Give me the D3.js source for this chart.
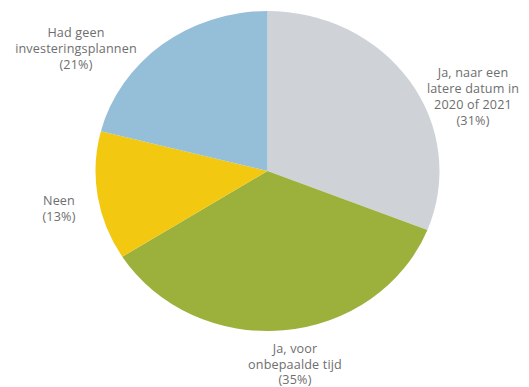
<!DOCTYPE html>
<html>
<head>
<meta charset="utf-8">
<script src="https://cdn.jsdelivr.net/npm/d3@7"></script>
<style>
  html, body { margin: 0; padding: 0; background: #fff; }
  svg { display: block; }
</style>
</head>
<body>
<svg id="chart" width="529" height="387"></svg>
<script>
const categories = ["Ja, naar een latere datum in 2020 of 2021", "Ja, voor onbepaalde tijd", "Neen", "Had geen investeringsplannen"];
const values = [31, 35, 13, 21];
const labelLines = [
  ["Ja, naar een", "latere datum in", "2020 of 2021", "(31%)"],
  ["Ja, voor", "onbepaalde tijd", "(35%)"],
  ["Neen", "(13%)"],
  ["Had geen", "investeringsplannen", "(21%)"]
];
const colors = ["#cfd3d8", "#9cb13b", "#f2c811", "#95bfd8"];

const svg = d3.select("#chart");
const cx = 267.5, cy = 171, rx = 172, ry = 160;

const pie = d3.pie().sort(null).value(d => d)(values);
const arc = d3.arc().innerRadius(0).outerRadius(rx);

const g = svg.append("g").attr("transform", `translate(${cx},${cy}) scale(1,${ry / rx})`);
g.selectAll("path").data(pie).join("path")
  .attr("d", arc)
  .attr("fill", (d, i) => colors[i]);

const labelPos = [
  { x: 473, y: 73, dy: 15.7 },
  { x: 295, y: 349, dy: 15.5 },
  { x: 59, y: 201, dy: 16 },
  { x: 76, y: 33, dy: 16 }
];

labelLines.forEach((lines, i) => {
  const p = labelPos[i];
  const t = svg.append("text")
    .attr("text-anchor", "middle")
    .attr("font-family", "Open Sans, sans-serif")
    .attr("font-size", 12.6)
    .attr("letter-spacing", 0.15)
    .attr("fill", "#6e6e6e");
  lines.forEach((ln, j) => {
    t.append("tspan")
      .attr("x", p.x)
      .attr("y", p.y + j * p.dy)
      .attr("dy", "0.35em")
      .text(ln);
  });
});
</script>
</body>
</html>
